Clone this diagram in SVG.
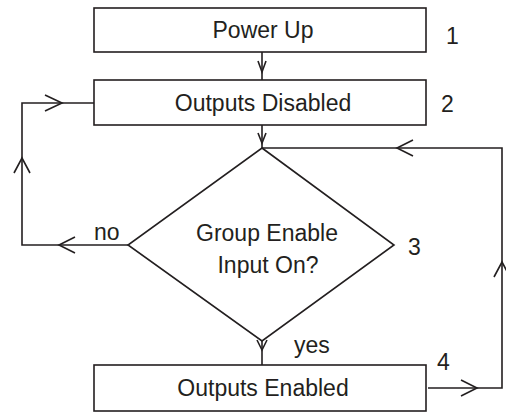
<svg xmlns="http://www.w3.org/2000/svg" width="506" height="413" viewBox="0 0 506 413">
<style>
.s{fill:none;stroke:#231f20;stroke-width:1.6;stroke-linejoin:miter}
.b{fill:#fff;stroke:#231f20;stroke-width:1.6}
text{font-family:"Liberation Sans",Arial,sans-serif;font-size:23px;fill:#231f20}
.c{text-anchor:middle}
</style>
<rect width="506" height="413" fill="#fff"/>
<g id="connectors">
<path class="s" d="M262 52V80"/>
<path class="s" d="M258 61L262 72L266 61"/>
<path class="s" d="M262 125V148"/>
<path class="s" d="M258 133L262 143L266 133"/>
<path class="s" d="M262 341V365"/>
<path class="s" d="M257 340L262 350L267 340"/>
<path class="s" d="M128 245H22V103H94"/>
<path class="s" d="M75 237L59 245L75 253"/>
<path class="s" d="M14 173L22 158L30 173"/>
<path class="s" d="M45 95L62 103L45 111"/>
<path class="s" d="M428 388H502V148H262"/>
<path class="s" d="M461 380L477 388L461 396"/>
<path class="s" d="M494 277L502 262L510 277"/>
<path class="s" d="M413 140L397 148L413 156"/>
</g>
<g id="n1">
<rect class="b" x="94" y="8" width="332" height="44"/>
<text class="c" x="263" y="38">Power Up</text>
<text x="446" y="44">1</text>
</g>
<g id="n2">
<rect class="b" x="94" y="80" width="332" height="45"/>
<text class="c" x="263" y="111">Outputs Disabled</text>
<text x="441" y="112">2</text>
</g>
<g id="n3">
<path class="b" d="M262 148L394 245L262 341L128 245Z"/>
<text class="c" x="267" y="241">Group Enable</text>
<text class="c" x="268" y="273">Input On?</text>
<text x="408" y="255">3</text>
<text x="94" y="240">no</text>
<text x="294" y="353">yes</text>
</g>
<g id="n4">
<rect class="b" x="94" y="365" width="332" height="46"/>
<text class="c" x="263" y="396">Outputs Enabled</text>
<text x="437" y="370">4</text>
</g>
</svg>
